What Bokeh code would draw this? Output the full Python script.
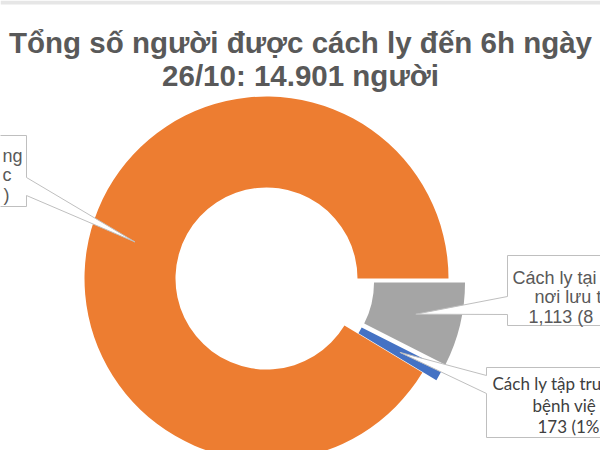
import math
from bokeh.plotting import figure
from bokeh.models import Range1d
from bokeh.core.properties import value
from bokeh.embed import file_html
from bokeh.resources import INLINE

# ---------------- data ----------------
title_lines = ["Tổng số người được cách ly đến 6h ngày", "26/10: 14.901 người"]
categories = ["Cách ly tại nhà, nơi lưu trú",
              "Cách ly tập trung tại bệnh viện",
              "Cách ly tập trung tại cơ sở khác"]
values = [1113, 173, 13615]
colors = ["#A5A5A5", "#4472C4", "#ED7D31"]
# label text as far as it is visible in the (cropped) picture
label_lines = [["Cách ly tại", "nơi lưu t", "1,113 (8"],
               ["Cách ly tập tru", "bệnh việ", "173 (1%"],
               ["ng", "c", ")"]]

# ---------------- layout (screen px) ----------------
W, H = 600, 450
cx, cy = 266, 278
r_in, r_out = 91, 182
explode = [17, 16, 0]

def Y(sy):
    return -sy

p = figure(width=W, height=H, output_backend="svg", toolbar_location=None,
           x_range=Range1d(0, W), y_range=Range1d(-H, 0),
           x_axis_location=None, y_axis_location=None, min_border=0,
           outline_line_color=None, background_fill_color="white",
           border_fill_color="white")
p.grid.visible = False

# thin light-grey strip along the top edge of the picture
p.quad(left=[0], right=[W], top=[0], bottom=[Y(4)], fill_color="#E6E6E6",
       line_color=None)

total = sum(values)
cum = 0.0
starts, ends, xs, ys, mids = [], [], [], [], []
for v, e in zip(values, explode):
    f0 = cum / total
    cum += v
    f1 = cum / total
    a_s = -f1 * 2 * math.pi
    a_e = -f0 * 2 * math.pi
    mid = (a_s + a_e) / 2
    starts.append(a_s)
    ends.append(a_e)
    mids.append(mid)
    xs.append(cx + e * math.cos(mid))
    ys.append(Y(cy) + e * math.sin(mid))

p.annular_wedge(x=xs, y=ys, inner_radius=r_in, outer_radius=r_out,
                start_angle=starts, end_angle=ends, fill_color=colors,
                line_color=None)

# tips of callouts (middle of ring in each slice)
r_mid = (r_in + r_out) / 2
tips = [(x + r_mid * math.cos(m), y + r_mid * math.sin(m))
        for x, y, m in zip(xs, ys, mids)]

# callout boxes: (x0, x1, y0, y1, baseA, baseB, side)
boxes = [(507, 700, 255, 325, 296, 314, "left"),
         (486, 700, 367, 437, 375, 393, "left"),
         (-140, 26, 135, 206, 177, 195, "right")]
pxs, pys = [], []
for (x0, x1, y0, y1, bA, bB, side), (tx, ty) in zip(boxes, tips):
    if side == "left":
        pts = [(x0, Y(y0)), (x1, Y(y0)), (x1, Y(y1)), (x0, Y(y1)),
               (x0, Y(bB)), (tx, ty), (x0, Y(bA))]
    else:
        pts = [(x0, Y(y0)), (x1, Y(y0)), (x1, Y(bA)), (tx, ty),
               (x1, Y(bB)), (x1, Y(y1)), (x0, Y(y1))]
    pxs.append([q[0] for q in pts])
    pys.append([q[1] for q in pts])
p.patches(pxs, pys, fill_color="white", line_color="#BFBFBF", line_width=1)

# label texts: anchor x per line, first baseline, step, align, font, size, colour
label_cfg = [
    ([512, 534, 528], 277, 19.5, "left", "Liberation Sans", "18px", "#595959"),
    ([492, 532, 537], 383, 21.5, "left", "Lato", "17px", "#404040"),
    ([22, 11, 9], 155, 19.5, "right", "Liberation Sans", "18px", "#595959"),
]
for lines, (lxs, ly, step, align, font, size, col) in zip(label_lines, label_cfg):
    p.text(x=lxs, y=[Y(ly + k * step) for k in range(len(lines))],
           text=lines, text_font=value(font), text_font_size=value(size),
           text_color=col, text_align=align, text_baseline="alphabetic")

# title
p.text(x=[300, 300], y=[Y(42), Y(75)], text=title_lines,
       text_font=value("Liberation Sans"), text_font_size=value("29.5px"),
       text_font_style="bold", text_color="#595959",
       text_align="center", text_baseline="alphabetic")

open("out.html", "w").write(file_html(p, INLINE))
